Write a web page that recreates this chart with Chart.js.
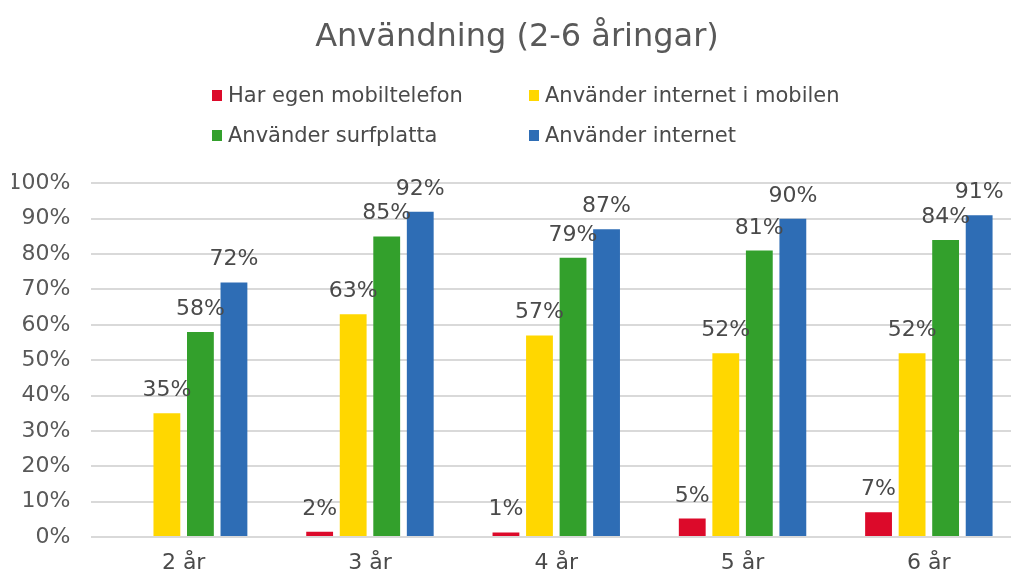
<!DOCTYPE html>
<html>
<head>
<meta charset="utf-8">
<script src="https://cdn.jsdelivr.net/npm/chart.js@4.4.1/dist/chart.umd.min.js"></script>
<style>
  body { margin: 0; background: #fff; }
  #wrap { position: relative; width: 1011px; height: 572px; overflow: hidden; }
  #legend {
    position: absolute; left: 212px; top: 84px;
    display: grid; grid-template-columns: 317px 317px; row-gap: 18px;
    font-family: "DejaVu Sans", sans-serif; font-size: 21px; color: #4a4a4a;
  }
  .item { display: flex; align-items: center; height: 22px; }
  .box { width: 10px; height: 11px; margin-right: 6px; }
</style>
</head>
<body>
<div id="wrap">
  <canvas id="chart" width="1022" height="572"></canvas>
  <div id="legend"></div>
</div>
<script>
let categories = ["2 år", "3 år", "4 år", "5 år", "6 år"]
let seriesNames = ["Har egen mobiltelefon", "Använder internet i mobilen", "Använder surfplatta", "Använder internet"]
let mobil = [null, 1.5, 1.3, 5.2, 7]
let internetMobil = [35, 63, 57, 52, 52]
let surfplatta = [58, 85, 79, 81, 84]
let internet = [72, 92, 87, 90, 91]
let colors = ["#DC0A2A", "#FFD700", "#33A02C", "#2E6DB5"]
let yTicks = [0, 10, 20, 30, 40, 50, 60, 70, 80, 90, 100]

let font = "DejaVu Sans, sans-serif"

// draws the value above each bar
let barLabels = {
  id: "barLabels",
  afterDatasetsDraw(chart) {
    let ctx = chart.ctx
    ctx.save()
    ctx.font = "22px " + font
    ctx.fillStyle = "#4a4a4a"
    ctx.textAlign = "center"
    ctx.textBaseline = "alphabetic"
    chart.data.datasets.forEach((ds, i) => {
      chart.getDatasetMeta(i).data.forEach((bar, j) => {
        let v = ds.data[j]
        if (v === null) return
        ctx.fillText(Math.round(v) + "%", bar.x, bar.y - 17)
      })
    })
    ctx.restore()
  }
}

let allData = [mobil, internetMobil, surfplatta, internet]

let chart = new Chart(document.getElementById("chart"), {
  type: "bar",
  data: {
    labels: categories,
    datasets: allData.map((d, i) => ({
      label: seriesNames[i],
      data: d,
      backgroundColor: colors[i],
      categoryPercentage: 0.72,
      barPercentage: 0.8
    }))
  },
  options: {
    responsive: false,
    animation: false,
    layout: { padding: { left: 12, right: 0, top: 0, bottom: 0 } },
    plugins: {
      legend: { display: false },
      tooltip: { enabled: false },
      title: {
        display: true,
        text: "Användning (2-6 åringar)",
        color: "#595959",
        font: { family: font, size: 32, weight: "normal" },
        padding: { top: 18, bottom: 127 }
      }
    },
    scales: {
      x: {
        grid: { display: false },
        border: { display: false },
        afterFit(axis) { axis.height = 35 },
        ticks: { color: "#4a4a4a", font: { family: font, size: 22 }, padding: 5 }
      },
      y: {
        min: 0, max: 100,
        afterBuildTicks(axis) { axis.ticks = yTicks.map(v => ({ value: v })) },
        afterFit(axis) { axis.width = 78.5 },
        grid: { color: "#D9D9D9", lineWidth: 2, drawTicks: false },
        border: { display: false },
        ticks: { color: "#595959", font: { family: font, size: 22 }, padding: 20, callback: v => v + "%" }
      }
    }
  },
  plugins: [barLabels]
})

let legend = document.getElementById("legend")
chart.data.datasets.forEach(ds => {
  let item = document.createElement("div")
  item.className = "item"
  item.innerHTML = `<span class="box" style="background:${ds.backgroundColor}"></span>${ds.label}`
  legend.appendChild(item)
})
</script>
</body>
</html>
